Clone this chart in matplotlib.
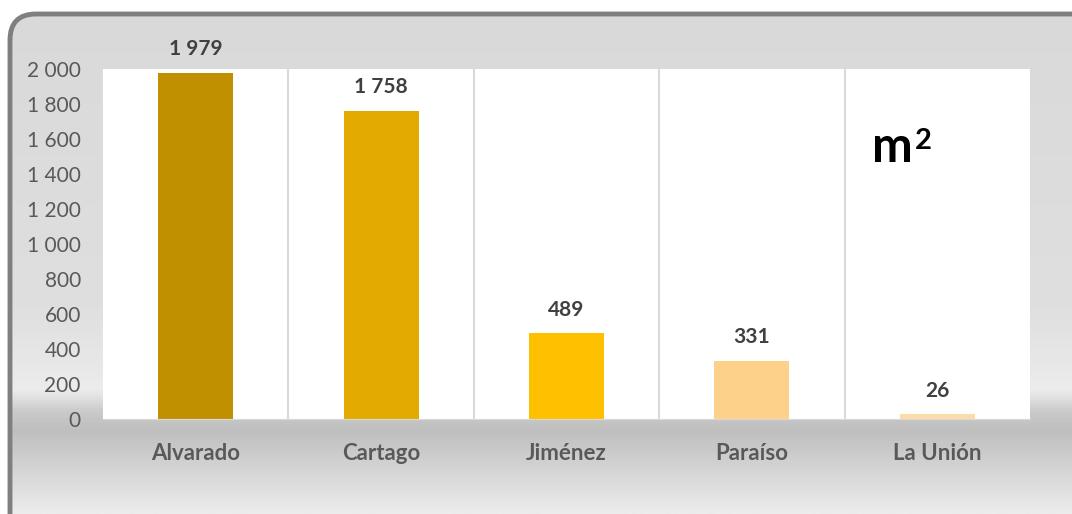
import matplotlib
matplotlib.use('Agg')
import matplotlib.pyplot as plt
import numpy as np
from matplotlib.patches import FancyBboxPatch
from matplotlib.colors import LinearSegmentedColormap

plt.rcParams['font.family'] = ['Lato', 'DejaVu Sans']

# Datos
cantones = ['Alvarado', 'Cartago', 'Jiménez', 'Paraíso', 'La Unión']
area_m2 = [1979, 1758, 489, 331, 26]
colores = ['#C09000', '#E3AB00', '#FFC000', '#FED18A', '#FEDCA8']
y_ticks = [0, 200, 400, 600, 800, 1000, 1200, 1400, 1600, 1800, 2000]

W, H = 1072, 514
fig = plt.figure(figsize=(W / 100, H / 100), dpi=100)
fig.patch.set_facecolor('white')

# Fondo con degradado y borde redondeado
bg = fig.add_axes([0, 0, 1, 1])
bg.set_xlim(0, W)
bg.set_ylim(H, 0)
bg.axis('off')
grad_cmap = LinearSegmentedColormap.from_list('fondo', [
    (0.0, '#d9d9d9'), (0.6, '#dfdfdf'), (0.76, '#ececec'),
    (0.805, '#c9c9c9'), (0.84, '#bfbfbf'), (1.0, '#ececec')])
grad = np.linspace(0, 1, 400).reshape(-1, 1)
caja = FancyBboxPatch((10, 14), W + 40, H + 40,
                      boxstyle='round,pad=0,rounding_size=26',
                      facecolor='none', edgecolor='#7f7f7f', linewidth=3.5, zorder=3)
bg.add_patch(caja)
img = bg.imshow(grad, cmap=grad_cmap, extent=[0, W, H, 0], aspect='auto', zorder=1)
img.set_clip_path(caja)

# Area del grafico
ax = fig.add_axes([103 / W, 1 - 419 / H, (1030 - 103) / W, (419 - 69) / H])
ax.set_facecolor('white')
x = np.arange(len(cantones))
ax.bar(x, area_m2, width=0.405, color=colores, zorder=2)
ax.set_xlim(-0.5, len(cantones) - 0.5)
ax.set_ylim(0, 2000)

for xi in x[:-1]:
    ax.axvline(xi + 0.5, color='#d9d9d9', linewidth=1.5, zorder=1)

for xi, v in zip(x, area_m2):
    ax.annotate(f'{v:,}'.replace(',', ' '), (xi, v), xytext=(0, 10),
                textcoords='offset points', ha='center', va='bottom',
                fontsize=15, fontweight='bold', color='#404040',
                annotation_clip=False)

ax.set_yticks(y_ticks)
ax.set_yticklabels([f'{t:,}'.replace(',', ' ') for t in y_ticks],
                   fontsize=15, color='#595959')
ax.set_xticks(x)
ax.set_xticklabels(cantones, fontsize=16, fontweight='bold', color='#595959')
ax.tick_params(axis='y', length=0, pad=16)
ax.tick_params(axis='x', length=0, pad=17)
for s in ax.spines.values():
    s.set_visible(False)
ax.spines['bottom'].set_visible(True)
ax.spines['bottom'].set_color('#d9d9d9')

m_txt = ax.text(0.83, 0.735, 'm', transform=ax.transAxes, fontsize=35,
                fontweight='bold', color='black', ha='left', va='baseline')
ax.annotate('2', xy=(1, 1), xycoords=m_txt, xytext=(1, -2),
            textcoords='offset points', ha='left', va='top',
            fontsize=21, fontweight='bold', color='black')

fig.savefig('out.png', dpi=100)
